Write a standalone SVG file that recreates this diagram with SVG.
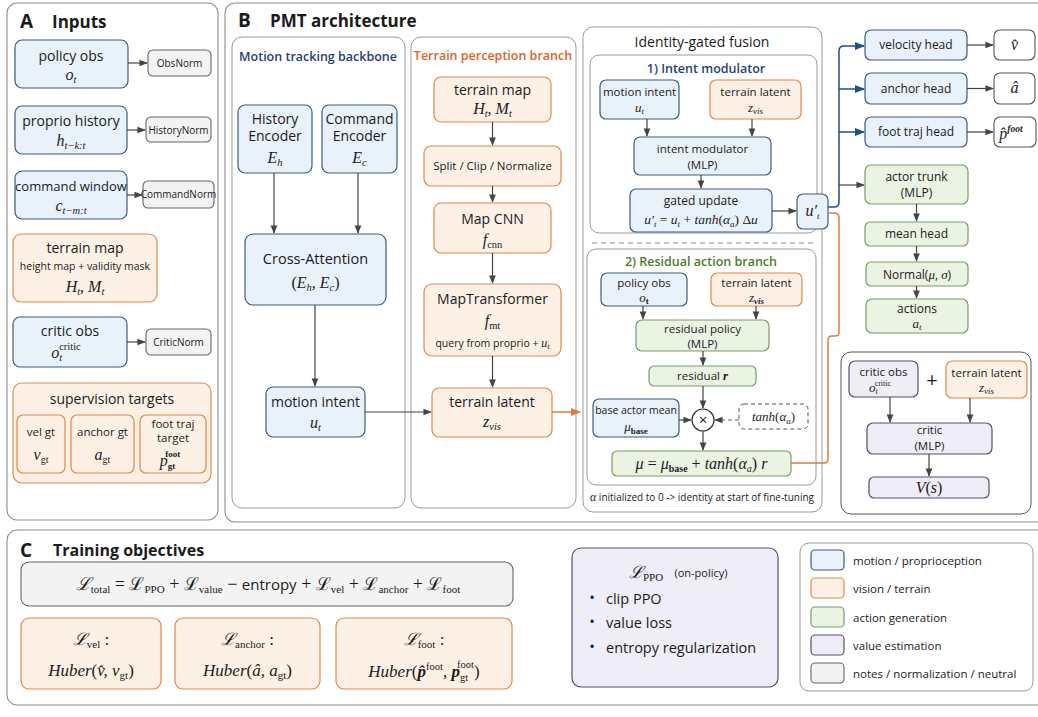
<svg xmlns="http://www.w3.org/2000/svg" width="1038" height="717" viewBox="0 0 1038 717">
<style>
.panel{fill:#fff;stroke:#8c8c8c;stroke-width:1.1}
.sub{fill:#fff;stroke:#9a9a9a;stroke-width:1}
.blue{fill:#e9f1fb;stroke:#3e5a80;stroke-width:1.2}
.orange{fill:#fdf1e6;stroke:#e2884c;stroke-width:1.2}
.green{fill:#ebf3e3;stroke:#7d9a6b;stroke-width:1.2}
.purple{fill:#efedf7;stroke:#55506c;stroke-width:1.2}
.grey{fill:#f3f3f3;stroke:#666;stroke-width:1.1}
.white{fill:#fff;stroke:#555;stroke-width:1.1}
text{font-family:"Open Sans","Noto Sans","Liberation Sans",sans-serif;fill:#1b1b1b;text-anchor:middle}
.t{font-size:14px}
.s{font-size:11.5px}
.xs{font-size:10px}
.h{font-size:17px;font-weight:bold;text-anchor:start}
.hl{font-size:19px;font-weight:bold;text-anchor:start}
.m{font-family:"Liberation Serif","DejaVu Serif",serif;font-style:italic;font-size:16px}
.ms{font-family:"Liberation Serif","DejaVu Serif",serif;font-style:italic;font-size:13px}
.r{font-style:normal}
.bt{font-weight:bold}
.c{fill:none;stroke:#444;stroke-width:1.2}
.cb{fill:none;stroke:#1f4e8c;stroke-width:1.5}
.co{fill:none;stroke:#e07b39;stroke-width:1.5}
.lg{font-size:11.5px;text-anchor:start}
</style>
<defs>
<marker id="ag" viewBox="0 0 10 10" refX="9" refY="5" markerWidth="7" markerHeight="7" orient="auto-start-reverse"><path d="M0,1 L10,5 L0,9 z" fill="#444"/></marker>
<marker id="ab" viewBox="0 0 10 10" refX="9" refY="5" markerWidth="7" markerHeight="7" orient="auto"><path d="M0,1 L10,5 L0,9 z" fill="#1f4e8c"/></marker>
<marker id="ao" viewBox="0 0 10 10" refX="9" refY="5" markerWidth="7" markerHeight="7" orient="auto"><path d="M0,1 L10,5 L0,9 z" fill="#e07b39"/></marker>
</defs>
<rect width="1038" height="717" fill="#fff"/>

<!-- Panel frames -->
<g id="panelA">
<rect class="panel" x="7" y="3" width="211" height="517" rx="10"/>
<text class="hl" x="20" y="28">A</text><text class="h" x="52" y="28">Inputs</text>
</g>
<g id="panelB">
<rect class="panel" x="225" y="3" width="830" height="519" rx="10"/>
<text class="hl" x="238" y="27">B</text><text class="h" x="270" y="27">PMT architecture</text>
<rect class="sub" x="232" y="37" width="173" height="471" rx="10"/>
<text x="318" y="61" style="font-size:12.5px;font-weight:600;fill:#1f3f7a">Motion tracking backbone</text>
<rect class="sub" x="411" y="37" width="165" height="471" rx="10"/>
<text x="493" y="60" style="font-size:12.5px;font-weight:600;fill:#d9651f">Terrain perception branch</text>
<rect class="sub" x="583" y="27" width="239" height="485" rx="10"/>
<text x="702" y="47" style="font-size:14px">Identity-gated fusion</text>
<rect class="sub" x="590" y="55" width="227" height="178" rx="9"/>
<text x="706" y="73" style="font-size:12.5px;font-weight:600;fill:#1f3f7a">1) Intent modulator</text>
<line x1="592" y1="243" x2="815" y2="243" stroke="#888" stroke-dasharray="5,4"/>
<rect class="sub" x="587" y="249" width="229" height="236" rx="9"/>
<text x="701" y="266" style="font-size:12.5px;font-weight:600;fill:#4d7a2a">2) Residual action branch</text>
<text x="702" y="501" class="xs"><tspan class="ms" style="font-size:12px">α</tspan> initialized to 0 -&gt; identity at start of fine-tuning</text>
<rect class="sub" x="841" y="352" width="190" height="162" rx="10" style="stroke:#555"/>
</g>
<g id="panelC">
<rect class="panel" x="7" y="530" width="1045" height="175" rx="10"/>
<text class="hl" x="20" y="557">C</text><text class="h" x="53" y="556" style="font-size:16px">Training objectives</text>
</g>

<!-- Panel A nodes -->
<g id="a-policy-obs"><rect class="blue" x="15" y="40" width="113" height="48" rx="7"/><text class="t" x="71" y="61">policy obs</text><text class="m" x="71" y="80">o<tspan style="font-size:10.5px" dy="3">t</tspan></text></g>
<g id="a-obsnorm"><rect class="grey" x="148" y="50" width="63" height="26" rx="5"/><text class="xs" x="179.5" y="67">ObsNorm</text></g>
<g id="a-proprio"><rect class="blue" x="15" y="106" width="112" height="48" rx="7"/><text class="t" x="71" y="126">proprio history</text><text class="m" x="71" y="146">h<tspan style="font-size:10.5px" dy="3">t−k:t</tspan></text></g>
<g id="a-historynorm"><rect class="grey" x="146" y="117" width="65" height="25" rx="5"/><text class="xs" x="178.5" y="133.5">HistoryNorm</text></g>
<g id="a-command"><rect class="blue" x="15" y="171" width="112" height="48" rx="7"/><text class="t" x="71" y="191" style="font-size:13px">command window</text><text class="m" x="71" y="211">c<tspan style="font-size:10.5px" dy="3">t−m:t</tspan></text></g>
<g id="a-commandnorm"><rect class="grey" x="143" y="181" width="71" height="27" rx="5"/><text class="xs" x="178.5" y="198">CommandNorm</text></g>
<g id="a-terrain"><rect class="orange" x="13" y="234" width="144" height="68" rx="8"/><text class="t" x="85" y="253">terrain map</text><text x="85" y="270" style="font-size:10.5px">height map + validity mask</text><text class="m" x="85" y="292">H<tspan style="font-size:10.5px" dy="3">t</tspan><tspan dy="-3">, M</tspan><tspan style="font-size:10.5px" dy="3">t</tspan></text></g>
<g id="a-critic-obs"><rect class="blue" x="13" y="317" width="114" height="50" rx="7"/><text class="t" x="70" y="336">critic obs</text><text class="m" x="66" y="358">o<tspan style="font-size:10.5px" dy="3">t</tspan><tspan class="r" style="font-size:10.5px" dx="-3" dy="-11">critic</tspan></text></g>
<g id="a-criticnorm"><rect class="grey" x="146" y="329" width="65" height="26" rx="5"/><text class="xs" x="178.5" y="346">CriticNorm</text></g>
<g id="a-supervision"><rect class="orange" x="13" y="383" width="198" height="100" rx="9"/><text class="t" x="112" y="404">supervision targets</text>
<rect class="orange" x="17" y="415" width="48" height="58" rx="6"/><text class="s" x="41" y="436">vel gt</text><text class="m" x="41" y="460">v<tspan class="r" style="font-size:10px" dy="3">gt</tspan></text>
<rect class="orange" x="71" y="415" width="63" height="58" rx="6"/><text class="s" x="102.5" y="436">anchor gt</text><text class="m" x="102.5" y="460">a<tspan class="r" style="font-size:10px" dy="3">gt</tspan></text>
<rect class="orange" x="140" y="415" width="66" height="58" rx="6"/><text class="s" x="173" y="428">foot traj</text><text class="s" x="173" y="442">target</text><text class="m" x="170" y="466">p<tspan class="r bt" style="font-size:9px" dy="3">gt</tspan><tspan class="r bt" style="font-size:9px" dx="-10" dy="-12">foot</tspan></text></g>

<!-- Motion tracking nodes -->
<g id="b-history-encoder"><rect class="blue" x="238" y="105" width="74" height="68" rx="7"/><text class="t" x="275" y="124">History</text><text class="t" x="275" y="141">Encoder</text><text class="m" x="275" y="163">E<tspan style="font-size:10.5px" dy="3">h</tspan></text></g>
<g id="b-command-encoder"><rect class="blue" x="322" y="105" width="75" height="68" rx="7"/><text class="t" x="359.5" y="124">Command</text><text class="t" x="359.5" y="141">Encoder</text><text class="m" x="359.5" y="163">E<tspan style="font-size:10.5px" dy="3">c</tspan></text></g>
<g id="b-cross-attention"><rect class="blue" x="245" y="234" width="141" height="71" rx="8"/><text class="t" x="315.5" y="264" style="font-size:14.5px">Cross-Attention</text><text class="m" x="315.5" y="288"><tspan class="r">(</tspan>E<tspan style="font-size:10.5px" dy="3">h</tspan><tspan dy="-3">, E</tspan><tspan style="font-size:10.5px" dy="3">c</tspan><tspan class="r" dy="-3">)</tspan></text></g>
<g id="b-motion-intent"><rect class="blue" x="266" y="387" width="99" height="50" rx="7"/><text class="t" x="315.5" y="407">motion intent</text><text class="m" x="315.5" y="428">u<tspan style="font-size:10.5px" dy="3">t</tspan></text></g>

<!-- Terrain branch nodes -->
<g id="b-terrain-map"><rect class="orange" x="434" y="77" width="117" height="45" rx="7"/><text class="t" x="492.5" y="95">terrain map</text><text class="m" x="492.5" y="114">H<tspan style="font-size:10.5px" dy="3">t</tspan><tspan dy="-3">, M</tspan><tspan style="font-size:10.5px" dy="3">t</tspan></text></g>
<g id="b-split"><rect class="orange" x="424" y="146" width="137" height="40" rx="7"/><text class="s" x="492.5" y="170">Split / Clip / Normalize</text></g>
<g id="b-map-cnn"><rect class="orange" x="434" y="203" width="117" height="50" rx="7"/><text class="t" x="492.5" y="224">Map CNN</text><text class="m" x="492.5" y="245">f<tspan class="r" style="font-size:10.5px" dy="3">cnn</tspan></text></g>
<g id="b-maptransformer"><rect class="orange" x="424" y="284" width="137" height="72" rx="8"/><text class="t" x="492.5" y="304">MapTransformer</text><text class="m" x="492.5" y="326">f<tspan class="r" style="font-size:10.5px" dy="3">mt</tspan></text><text x="492.5" y="347" style="font-size:10.5px">query from proprio + <tspan class="ms" style="font-size:12px">u</tspan><tspan class="ms" style="font-size:8.5px" dy="2">t</tspan></text></g>
<g id="b-terrain-latent"><rect class="orange" x="432" y="388" width="120" height="49" rx="7"/><text class="t" x="492" y="407">terrain latent</text><text class="m" x="492" y="427">z<tspan style="font-size:10.5px" dy="3">vis</tspan></text></g>

<!-- Intent modulator nodes -->
<g id="f-motion-intent"><rect class="blue" x="600" y="80" width="79" height="39" rx="6"/><text class="s" x="639.5" y="96">motion intent</text><text class="ms" x="639.5" y="112">u<tspan style="font-size:9px" dy="2">t</tspan></text></g>
<g id="f-terrain-latent"><rect class="orange" x="710" y="80" width="91" height="39" rx="6"/><text class="s" x="755.5" y="96">terrain latent</text><text class="ms" x="755.5" y="112">z<tspan style="font-size:9px" dy="2">vis</tspan></text></g>
<g id="f-intent-mlp"><rect class="blue" x="634" y="137" width="137" height="38" rx="6"/><text class="s" x="702.5" y="153">intent modulator</text><text class="s" x="702.5" y="169">(MLP)</text></g>
<g id="f-gated-update"><rect class="blue" x="630" y="189" width="142" height="43" rx="6"/><text class="s" x="701" y="205" style="font-size:12px">gated update</text><text class="ms" x="701" y="224" style="font-size:13.5px">u′<tspan style="font-size:9px" dy="3">t</tspan><tspan class="r" dy="-3"> = </tspan>u<tspan style="font-size:9px" dy="3">t</tspan><tspan class="r" dy="-3"> + </tspan>tanh<tspan class="r">(</tspan>α<tspan style="font-size:9px" dy="3">a</tspan><tspan class="r" dy="-3">) Δ</tspan>u</text></g>
<g id="f-u-prime"><rect class="blue" x="797" y="194" width="31" height="35" rx="6"/><text class="m" x="812.5" y="216">u′<tspan style="font-size:9px" dy="3">t</tspan></text></g>

<!-- Residual action nodes -->
<g id="r-policy-obs"><rect class="blue" x="601" y="273" width="86" height="33" rx="6"/><text class="s" x="644" y="287">policy obs</text><text class="ms" x="644" y="302">o<tspan class="r bt" style="font-size:9px" dy="2">t</tspan></text></g>
<g id="r-terrain-latent"><rect class="orange" x="711" y="273" width="91" height="33" rx="6"/><text class="s" x="756.5" y="287">terrain latent</text><text class="ms" x="756.5" y="302">z<tspan class="bt" style="font-size:9px" dy="2">vis</tspan></text></g>
<g id="r-residual-policy"><rect class="green" x="636" y="320" width="133" height="31" rx="6"/><text class="s" x="702.5" y="333">residual policy</text><text class="s" x="702.5" y="348">(MLP)</text></g>
<g id="r-residual"><rect class="green" x="649" y="366" width="107" height="20" rx="5"/><text class="s" x="702.5" y="380">residual <tspan class="ms bt">r</tspan></text></g>
<g id="r-base-mean"><rect class="blue" x="593" y="399" width="86" height="38" rx="6"/><text x="636" y="414" style="font-size:10.5px">base actor mean</text><text class="ms" x="636" y="431">μ<tspan class="r bt" style="font-size:9px" dy="3">base</tspan></text></g>
<g id="r-multiply"><circle cx="703" cy="420" r="11" fill="#fff" stroke="#333" stroke-width="1.2"/><text x="703" y="425" style="font-size:15px">×</text></g>
<g id="r-tanh"><rect x="739" y="404" width="69" height="25" rx="5" fill="#fff" stroke="#555" stroke-dasharray="4,3"/><text class="ms" x="773.5" y="421">tanh<tspan class="r">(</tspan>α<tspan style="font-size:9px" dy="3">a</tspan><tspan class="r" dy="-3">)</tspan></text></g>
<g id="r-mu"><rect class="green" x="612" y="451" width="179" height="25" rx="5"/><text class="m" x="701.5" y="469">μ<tspan class="r"> = </tspan>μ<tspan class="r bt" style="font-size:10px" dy="3">base</tspan><tspan class="r" dy="-3"> + </tspan>tanh<tspan class="r">(</tspan>α<tspan style="font-size:10px" dy="3">a</tspan><tspan class="r" dy="-3">) </tspan>r</text></g>

<!-- Heads -->
<g id="h-velocity"><rect class="blue" x="865" y="30" width="102" height="30" rx="6"/><text class="s" x="916" y="49" style="font-size:12px">velocity head</text></g>
<g id="h-vhat"><rect class="white" x="994" y="30" width="41" height="30" rx="6"/><text class="m" x="1014.5" y="50">v̂</text></g>
<g id="h-anchor"><rect class="blue" x="865" y="73" width="102" height="31" rx="6"/><text class="s" x="916" y="93" style="font-size:12px">anchor head</text></g>
<g id="h-ahat"><rect class="white" x="994" y="73" width="41" height="31" rx="6"/><text class="m" x="1014.5" y="93">â</text></g>
<g id="h-foot"><rect class="blue" x="865" y="117" width="102" height="30" rx="6"/><text class="s" x="916" y="136" style="font-size:12px">foot traj head</text></g>
<g id="h-phat"><rect class="white" x="994" y="117" width="42" height="30" rx="6"/><text class="m" x="1011" y="139">p̂<tspan class="bt" style="font-size:9.5px" dy="-7">foot</tspan></text></g>
<g id="h-actor-trunk"><rect class="green" x="865" y="165" width="103" height="39" rx="6"/><text class="s" x="916.5" y="181" style="font-size:12px">actor trunk</text><text class="s" x="916.5" y="197" style="font-size:12px">(MLP)</text></g>
<g id="h-mean-head"><rect class="green" x="865" y="222" width="103" height="24" rx="5"/><text class="s" x="916.5" y="238" style="font-size:12px">mean head</text></g>
<g id="h-normal"><rect class="green" x="866" y="262" width="102" height="24" rx="5"/><text class="s" x="917" y="279" style="font-size:12px">Normal(<tspan class="ms">μ</tspan>, <tspan class="ms">σ</tspan>)</text></g>
<g id="h-actions"><rect class="green" x="866" y="299" width="102" height="34" rx="6"/><text class="s" x="917" y="313" style="font-size:12px">actions</text><text class="ms" x="917" y="328">a<tspan style="font-size:9px" dy="2">t</tspan></text></g>

<!-- Critic -->
<g id="c-critic-obs"><rect class="purple" x="849" y="361" width="69" height="36" rx="6"/><text class="s" x="883.5" y="376">critic obs</text><text class="ms" x="880" y="392">o<tspan style="font-size:8px" dy="2">t</tspan><tspan class="r" style="font-size:8px" dx="-3" dy="-8">critic</tspan></text></g>
<text x="932" y="387" style="font-size:20px">+</text>
<g id="c-terrain-latent"><rect class="orange" x="946" y="361" width="81" height="37" rx="6"/><text class="s" x="986.5" y="377">terrain latent</text><text class="ms" x="986.5" y="392">z<tspan style="font-size:9px" dy="2">vis</tspan></text></g>
<g id="c-critic"><rect class="purple" x="867" y="423" width="125" height="31" rx="6"/><text class="s" x="929.5" y="434">critic</text><text class="s" x="929.5" y="450">(MLP)</text></g>
<g id="c-value"><rect class="purple" x="869" y="477" width="120" height="21" rx="5"/><text class="m" x="929" y="493"><tspan>V</tspan><tspan class="r">(</tspan>s<tspan class="r">)</tspan></text></g>

<!-- Panel C nodes -->
<g id="c-total"><rect class="grey" x="21" y="562" width="492" height="44" rx="8"/>
<text class="m" x="268" y="590" style="font-size:18px">ℒ<tspan class="r" style="font-size:11px" dy="3">total</tspan><tspan class="r" dy="-3">  =  ℒ</tspan><tspan class="r" style="font-size:11px" dy="3">PPO</tspan><tspan class="r" dy="-3">  +  ℒ</tspan><tspan class="r" style="font-size:11px" dy="3">value</tspan><tspan class="r" dy="-3">  −  </tspan><tspan class="r" style="font-family:'Open Sans','Noto Sans',sans-serif;font-size:15px">entropy</tspan><tspan class="r"> + ℒ</tspan><tspan class="r" style="font-size:11px" dy="3">vel</tspan><tspan class="r" dy="-3">  +  ℒ</tspan><tspan class="r" style="font-size:11px" dy="3">anchor</tspan><tspan class="r" dy="-3"> + ℒ</tspan><tspan class="r" style="font-size:11px" dy="3">foot</tspan></text></g>
<g id="c-lvel"><rect class="orange" x="21" y="618" width="140" height="71" rx="8"/><text class="m" x="91" y="645" style="font-size:17px">ℒ<tspan class="r" style="font-size:11px" dy="3">vel</tspan><tspan class="r" dy="-3"> :</tspan></text><text class="m" x="91" y="676" style="font-size:17px">Huber<tspan class="r">(</tspan>v̂, v<tspan class="r" style="font-size:11px" dy="3">gt</tspan><tspan class="r" dy="-3">)</tspan></text></g>
<g id="c-lanchor"><rect class="orange" x="175" y="618" width="145" height="71" rx="8"/><text class="m" x="247.5" y="645" style="font-size:17px">ℒ<tspan class="r" style="font-size:11px" dy="3">anchor</tspan><tspan class="r" dy="-3"> :</tspan></text><text class="m" x="247.5" y="676" style="font-size:17px">Huber<tspan class="r">(</tspan>â, a<tspan class="r" style="font-size:11px" dy="3">gt</tspan><tspan class="r" dy="-3">)</tspan></text></g>
<g id="c-lfoot"><rect class="orange" x="336" y="618" width="176" height="71" rx="8"/><text class="m" x="424" y="645" style="font-size:17px">ℒ<tspan class="r" style="font-size:11px" dy="3">foot</tspan><tspan class="r" dy="-3"> :</tspan></text><text class="m" x="424" y="677" style="font-size:17px">Huber<tspan class="r">(</tspan><tspan class="bt">p̂</tspan><tspan class="r" style="font-size:10.5px" dy="-7">foot</tspan><tspan class="r" dy="7">, </tspan><tspan class="bt">p</tspan><tspan class="r" style="font-size:10.5px" dy="4">gt</tspan><tspan class="r" style="font-size:10.5px" dx="-11" dy="-13">foot</tspan><tspan class="r" dy="9">)</tspan></text></g>
<g id="c-ppo"><rect class="purple" x="572" y="548" width="206" height="139" rx="9"/>
<text class="m" x="646" y="578" style="font-size:17px">ℒ<tspan class="r" style="font-size:11px" dy="3">PPO</tspan></text><text x="701" y="577" style="font-size:11px">(on-policy)</text>
<text x="592" y="603" style="font-size:15px">•</text><text x="606" y="604" style="font-size:14.5px;text-anchor:start">clip PPO</text>
<text x="592" y="627" style="font-size:15px">•</text><text x="606" y="628" style="font-size:14.5px;text-anchor:start">value loss</text>
<text x="592" y="652" style="font-size:15px">•</text><text x="606" y="653" style="font-size:14.5px;text-anchor:start">entropy regularization</text></g>
<g id="c-legend"><rect x="800" y="543" width="233" height="148" rx="9" fill="#fff" stroke="#999"/>
<rect class="blue" x="811" y="550" width="33" height="20" rx="4"/><text class="lg" x="853" y="565">motion / proprioception</text>
<rect class="orange" x="811" y="578" width="33" height="20" rx="4"/><text class="lg" x="853" y="593">vision / terrain</text>
<rect class="green" x="811" y="607" width="33" height="20" rx="4"/><text class="lg" x="853" y="622">action generation</text>
<rect class="purple" x="811" y="635" width="33" height="20" rx="4"/><text class="lg" x="853" y="650">value estimation</text>
<rect class="grey" x="811" y="663" width="33" height="20" rx="4"/><text class="lg" x="853" y="678">notes / normalization / neutral</text></g>

<!-- Connectors -->
<g id="connectors">
<line class="c" x1="128" y1="63" x2="147" y2="63" marker-end="url(#ag)"/>
<line class="c" x1="127" y1="130" x2="145" y2="130" marker-end="url(#ag)"/>
<line class="c" x1="127" y1="195" x2="142" y2="195" marker-end="url(#ag)"/>
<line class="c" x1="127" y1="342" x2="145" y2="342" marker-end="url(#ag)"/>
<line class="c" x1="274" y1="173" x2="274" y2="233" marker-end="url(#ag)"/>
<line class="c" x1="358" y1="173" x2="358" y2="233" marker-end="url(#ag)"/>
<line class="c" x1="315" y1="305" x2="315" y2="386" marker-end="url(#ag)"/>
<line class="c" x1="365" y1="412" x2="431" y2="412" marker-end="url(#ag)"/>
<line class="c" x1="492.5" y1="122" x2="492.5" y2="145" marker-end="url(#ag)"/>
<line class="c" x1="492.5" y1="186" x2="492.5" y2="202" marker-end="url(#ag)"/>
<line class="c" x1="492.5" y1="253" x2="492.5" y2="283" marker-end="url(#ag)"/>
<line class="c" x1="492.5" y1="356" x2="492.5" y2="387" marker-end="url(#ag)"/>
<line class="co" x1="552" y1="412" x2="580" y2="412" marker-end="url(#ao)"/>
<line class="c" x1="647" y1="119" x2="647" y2="136" marker-end="url(#ag)"/>
<line class="c" x1="752" y1="119" x2="752" y2="136" marker-end="url(#ag)"/>
<line class="c" x1="701" y1="175" x2="701" y2="188" marker-end="url(#ag)"/>
<line class="c" x1="772" y1="211" x2="796" y2="211" marker-end="url(#ag)"/>
<line class="c" x1="643" y1="306" x2="643" y2="319" marker-end="url(#ag)"/>
<line class="c" x1="756" y1="306" x2="756" y2="319" marker-end="url(#ag)"/>
<line class="c" x1="703" y1="351" x2="703" y2="365" marker-end="url(#ag)"/>
<line class="c" x1="703" y1="386" x2="703" y2="408" marker-end="url(#ag)"/>
<line class="c" x1="679" y1="420" x2="691" y2="420" marker-end="url(#ag)"/>
<line x1="739" y1="420" x2="715" y2="420" stroke="#666" stroke-width="1.2" stroke-dasharray="4,3" marker-end="url(#ag)"/>
<line class="c" x1="703" y1="431" x2="703" y2="450" marker-end="url(#ag)"/>
<path class="co" d="M791 463 H824 Q828 463 828 459 V340 Q828 336 832 336 H835 Q839 336 839 332 V218 Q839 213 834 213 H829"/>
<path class="cb" d="M828 207 H834 Q839 207 839 202 V51 Q839 46 844 46 H864" marker-end="url(#ab)"/>
<line class="cb" x1="839" y1="89" x2="864" y2="89" marker-end="url(#ab)"/>
<line class="cb" x1="839" y1="132" x2="864" y2="132" marker-end="url(#ab)"/>
<line class="c" x1="839" y1="185" x2="864" y2="185" marker-end="url(#ag)"/>
<line class="c" x1="967" y1="45" x2="993" y2="45" marker-end="url(#ag)"/>
<line class="c" x1="967" y1="88.5" x2="993" y2="88.5" marker-end="url(#ag)"/>
<line class="c" x1="967" y1="132" x2="993" y2="132" marker-end="url(#ag)"/>
<line class="c" x1="916.5" y1="204" x2="916.5" y2="221" marker-end="url(#ag)"/>
<line class="c" x1="916.5" y1="246" x2="916.5" y2="261" marker-end="url(#ag)"/>
<line class="c" x1="916.5" y1="286" x2="916.5" y2="298" marker-end="url(#ag)"/>
<line class="c" x1="890" y1="397" x2="890" y2="422" marker-end="url(#ag)"/>
<line class="c" x1="970" y1="398" x2="970" y2="422" marker-end="url(#ag)"/>
<line class="c" x1="929" y1="454" x2="929" y2="476" marker-end="url(#ag)"/>
</g>
</svg>
